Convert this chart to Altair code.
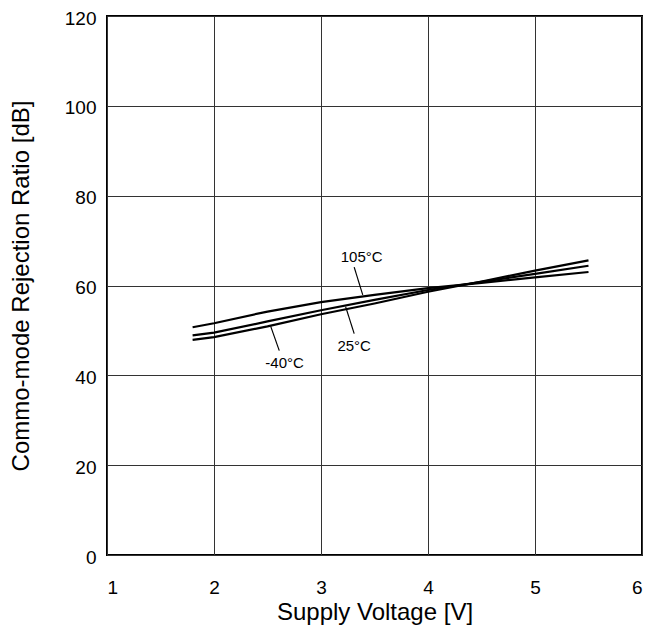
import altair as alt
import pandas as pd

voltage = [1.8, 2.0, 2.5, 3.0, 3.5, 4.0, 4.5, 5.0, 5.5]
cmrr_m40 = [47.9, 48.5, 50.9, 53.6, 56.0, 58.6, 60.9, 63.3, 65.6]
cmrr_25 = [48.9, 49.5, 52.0, 54.5, 56.8, 59.0, 60.8, 62.6, 64.4]
cmrr_105 = [50.7, 51.6, 54.2, 56.3, 57.9, 59.4, 60.6, 61.8, 63.0]
series_names = ["-40°C", "25°C", "105°C"]

label_text = ["105°C", "25°C", "-40°C"]
label_x = [3.38, 3.31, 2.66]
label_y = [66.4, 46.5, 42.8]
leader_x1 = [3.31, 3.23, 2.53]
leader_y1 = [64.1, 55.3, 50.9]
leader_x2 = [3.39, 3.31, 2.61]
leader_y2 = [57.9, 49.3, 45.5]

x_ticks = [1, 2, 3, 4, 5, 6]
y_ticks = [0, 20, 40, 60, 80, 100, 120]

rows = []
for name, vals in zip(series_names, [cmrr_m40, cmrr_25, cmrr_105]):
    for v, c in zip(voltage, vals):
        rows.append({"series": name, "v": v, "cmrr": c})
df = pd.DataFrame(rows)

lab = pd.DataFrame({"text": label_text, "x": label_x, "y": label_y})
lead = pd.DataFrame({"x1": leader_x1, "y1": leader_y1, "x2": leader_x2, "y2": leader_y2})

FONT = "Liberation Sans"

xscale = alt.Scale(domain=[1, 6], nice=False, zero=False)
yscale = alt.Scale(domain=[0, 120], nice=False)

xaxis = alt.Axis(values=x_ticks, format="d", title="Supply Voltage [V]", grid=True,
                 ticks=False, tickSize=0, labelPadding=38, labelBaseline="alphabetic",
                 domain=False, titleY=64, titleBaseline="alphabetic")
yaxis = alt.Axis(values=y_ticks, format="d", title="Commo-mode Rejection Ratio [dB]",
                 grid=True, ticks=False, tickSize=0, labelPadding=11, domain=False,
                 labelBaseline="middle", labelOffset=2, titleX=-79,
                 titleBaseline="alphabetic")

lines = alt.Chart(df).mark_line(color="black", strokeWidth=2.2).encode(
    x=alt.X("v:Q", scale=xscale, axis=xaxis),
    y=alt.Y("cmrr:Q", scale=yscale, axis=yaxis),
    detail="series:N",
)

rules = alt.Chart(lead).mark_rule(color="black", strokeWidth=1.2).encode(
    x=alt.X("x1:Q", scale=xscale), y=alt.Y("y1:Q", scale=yscale),
    x2="x2:Q", y2="y2:Q",
)

texts = alt.Chart(lab).mark_text(font=FONT, fontSize=15, color="black",
                                 align="center", baseline="middle").encode(
    x=alt.X("x:Q", scale=xscale), y=alt.Y("y:Q", scale=yscale), text="text:N",
)

chart = alt.layer(lines, rules, texts).properties(
    width=535, height=539,
    autosize=alt.AutoSizeParams(type="none"),
    padding={"left": 99, "top": 8, "right": 8, "bottom": 74},
    background="white",
).configure_view(
    stroke="black", strokeWidth=2
).configure_axis(
    labelFont=FONT, titleFont=FONT, labelFontSize=19, titleFontSize=24,
    labelColor="black", titleColor="black", titleFontWeight="normal",
    gridColor="#333333", gridWidth=1, gridOpacity=1,
)

chart.save("out.html", embed_options={"renderer": "svg", "actions": False})
